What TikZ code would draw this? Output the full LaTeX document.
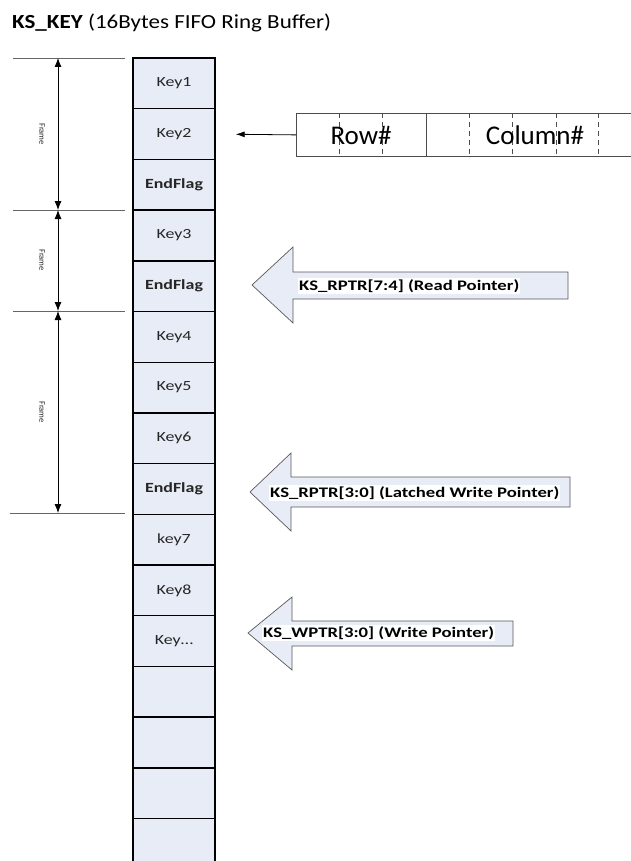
\documentclass[tikz,border=0pt]{standalone}
\usepackage{fontspec}
\setmainfont{Carlito}
\newfontfamily\cellfont[FakeStretch=1.28]{Carlito}
\newfontfamily\titlefont[FakeStretch=1.15]{Carlito}
\usetikzlibrary{arrows.meta}

\definecolor{cellblue}{RGB}{231,236,246}
\definecolor{inkgray}{RGB}{38,38,38}

\tikzset{
  cell/.style={draw=black,line width=1.4pt,fill=cellblue,rectangle,
    minimum width=82pt,minimum height=50.7pt,inner sep=0pt,text=inkgray,
    font=\cellfont\fontsize{14}{16}\selectfont},
  frameline/.style={draw=gray!80!black,line width=0.8pt},
  dimarrow/.style={{Latex[length=9pt,width=7pt]}-{Latex[length=9pt,width=7pt]},line width=0.8pt},
  framelbl/.style={rotate=-90,inner sep=0pt,text=inkgray,font=\fontsize{8.5}{10}\selectfont},
  ptrarrow/.style={fill=cellblue,draw=gray!70!black,line width=0.7pt},
  ptrlbl/.style={anchor=west,fill=white,inner sep=1pt,text=black,
    font=\cellfont\bfseries\fontsize{14.6}{16}\selectfont},
  rclbl/.style={inner sep=0pt,text=black,font=\fontsize{27}{30}\selectfont}
}

\begin{document}
\begin{tikzpicture}[x=1pt,y=-1pt]
    \clip (0,0) rectangle (631,861);
    \node[anchor=base west,inner sep=0pt,font=\titlefont\fontsize{20}{24}\selectfont] (title) at (12,29)
      {\textbf{KS\_KEY} (16Bytes FIFO Ring Buffer)};

    % 16 byte ring buffer
    \foreach \lbl [count=\i] in {Key1,Key2,\textbf{EndFlag},Key3,\textbf{EndFlag},Key4,Key5,Key6,
        \textbf{EndFlag},key7,Key8,Key\ldots,{},{},{},{}}
      \node[cell] (c\i) at (174,32.65+50.7*\i) {\lbl};

    % frames
    \draw[frameline] (13,58) -- (125,58);
    \draw[frameline] (13,210) -- (125,210);
    \draw[frameline] (13,311) -- (125,311);
    \draw[frameline] (10,513) -- (125,513);
    \coordinate (f0) at (58,58);
    \coordinate (f1) at (58,210);
    \coordinate (f2) at (58,311);
    \coordinate (f3) at (58,513);
    \draw[dimarrow] (f0) -- (f1);
    \draw[dimarrow] (f1) -- (f2);
    \draw[dimarrow] (f2) -- (f3);
    \node[framelbl] (fr1) at (42,134) {Frame};
    \node[framelbl] (fr2) at (42,260) {Frame};
    \node[framelbl] (fr3) at (42,412) {Frame};

    % key code byte
    \node[draw=gray!60!black,line width=0.8pt,rectangle,anchor=north west,
      minimum width=400pt,minimum height=43pt] (rowcol) at (296,113) {};
    \draw[gray!60!black,line width=0.8pt] (426,113) -- (426,156);
    \foreach \x in {339,382,469,512,556,598}
      \draw[gray!60!black,line width=0.8pt,dash pattern=on 5pt off 4pt] (\x,113) -- (\x,156);
    \node[rclbl] (rowlbl) at (361,135) {Row\#};
    \node[rclbl] (collbl) at (535,135) {Column\#};
    \draw[-{Latex[length=9pt,width=6pt]},line width=0.8pt,shorten >=20pt] (rowcol.west) -- (c2.east);

    % pointers
    \filldraw[ptrarrow] (252,285) -- (293,247) -- (293,272) -- (568,272) -- (568,299)
      -- (293,299) -- (293,323) -- cycle;
    \node[ptrlbl] (rdptr) at (298,286) {KS\_RPTR[7:4] (Read Pointer)};

    \filldraw[ptrarrow] (250,492) -- (291,453) -- (291,477) -- (570,477) -- (570,507)
      -- (291,507) -- (291,531) -- cycle;
    \node[ptrlbl] (lwptr) at (269,493) {KS\_RPTR[3:0] (Latched Write Pointer)};

    \filldraw[ptrarrow] (248,633) -- (292,597) -- (292,621) -- (513,621) -- (513,646)
      -- (292,646) -- (292,670) -- cycle;
    \node[ptrlbl] (wrptr) at (262,633) {KS\_WPTR[3:0] (Write Pointer)};
  \end{tikzpicture}
\end{document}
